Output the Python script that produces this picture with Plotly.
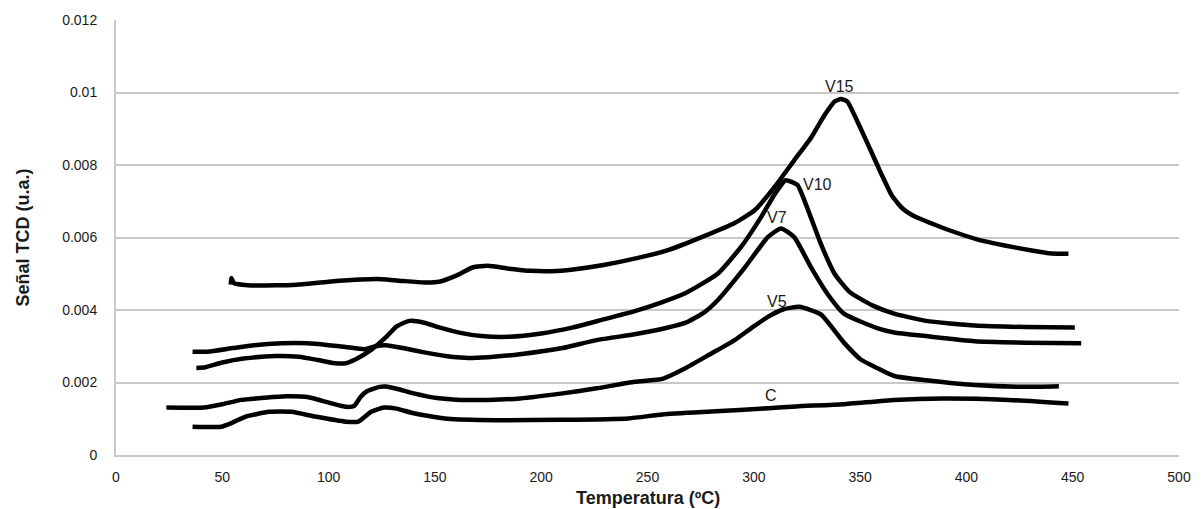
import plotly.graph_objects as go

# TPR-style TCD signal curves, temperature in ºC
v15_t = [54.0, 54.3, 55.5, 62, 75, 85, 100, 115, 125, 135, 145, 152, 160, 168, 175, 185, 195, 205,
         215, 230, 245, 260, 275.5, 291, 300.4, 309.7, 319, 327, 333, 338, 341, 344, 350, 355, 360,
         365, 370, 376, 384, 392, 405, 418, 430, 440, 448]
v15_y = [0.00470, 0.00488, 0.00474, 0.00468, 0.00468, 0.00470, 0.00478, 0.00484, 0.00485, 0.00480,
         0.00476, 0.00478, 0.00495, 0.00518, 0.00522, 0.00514, 0.00508, 0.00507, 0.00512, 0.00525,
         0.00543, 0.00566, 0.00601, 0.00640, 0.00675, 0.00739, 0.00813, 0.00876, 0.00935, 0.00975,
         0.00982, 0.00975, 0.00904, 0.00840, 0.00775, 0.00715, 0.00680, 0.00657, 0.00638, 0.00620,
         0.00595, 0.00578, 0.00565, 0.00556, 0.00555]

v10_t = [37.8, 42, 50, 60, 75, 86, 95, 102, 108, 113, 120, 127, 132, 138, 145, 152, 162, 172, 185,
         200, 215, 228, 244, 257, 268, 283, 294, 303.5, 310, 315, 320.5, 325, 331.5, 338, 345, 356,
         366, 381, 404, 428, 451]
v10_y = [0.00240, 0.00242, 0.00255, 0.00266, 0.00273, 0.00271, 0.00262, 0.00254, 0.00253, 0.00265,
         0.00290, 0.00325, 0.00355, 0.00370, 0.00365, 0.00352, 0.00337, 0.00328, 0.00326, 0.00335,
         0.00352, 0.00372, 0.00397, 0.00422, 0.00447, 0.00500, 0.00574, 0.00657, 0.00721, 0.00758,
         0.00745, 0.00684, 0.00583, 0.00500, 0.00450, 0.00412, 0.00390, 0.00370, 0.00357, 0.00353,
         0.00352]

v7_t = [36, 43, 55, 65, 78, 90, 100, 108, 117, 122, 127, 135, 145, 155, 164, 175, 190, 210, 226,
        244, 254, 268, 277, 283, 296, 306.6, 312.8, 319, 326.8, 334.6, 342.4, 358, 366, 381, 404,
        428, 454]
v7_y = [0.00285, 0.00285, 0.00295, 0.00303, 0.00308, 0.00308, 0.00303, 0.00298, 0.00292, 0.00300,
        0.00303, 0.00295, 0.00283, 0.00273, 0.00268, 0.00270, 0.00278, 0.00295, 0.00317, 0.00333,
        0.00344, 0.00365, 0.00395, 0.00427, 0.00519, 0.00601, 0.00625, 0.00601, 0.00519, 0.00445,
        0.00390, 0.00350, 0.00338, 0.00328, 0.00314, 0.00310, 0.00308]

v5_t = [23.7, 41.5, 50, 59, 70, 80, 90, 101, 108, 112, 115, 118, 124, 127, 132.5, 140, 151, 162,
        175, 190, 210, 226, 244, 257, 268, 280, 291, 300, 306.6, 314, 321.4, 331.5, 342.4, 350,
        358, 366, 381, 404, 428, 443.5]
v5_y = [0.00131, 0.00131, 0.00140, 0.00152, 0.00158, 0.00162, 0.00160, 0.00143, 0.00133, 0.00135,
        0.00160, 0.00176, 0.00188, 0.00189, 0.00182, 0.00170, 0.00157, 0.00152, 0.00152, 0.00156,
        0.00170, 0.00184, 0.00202, 0.00210, 0.00240, 0.00280, 0.00317, 0.00355, 0.00381, 0.00402,
        0.00409, 0.00388, 0.00310, 0.00265, 0.00240, 0.00218, 0.00206, 0.00193, 0.00188, 0.00190]

c_t = [36, 49.4, 55, 61, 72, 82.6, 93.6, 108, 114, 120, 126, 132, 140, 156, 179, 210, 241, 257, 280,
       307, 320, 342, 366, 389, 420, 448]
c_y = [0.00078, 0.00078, 0.00090, 0.00106, 0.00119, 0.00119, 0.00106, 0.00092, 0.00092, 0.00119,
       0.00131, 0.00128, 0.00115, 0.00100, 0.00096, 0.00097, 0.00101, 0.00112, 0.00120, 0.00129,
       0.00134, 0.00140, 0.00152, 0.00156, 0.00152, 0.00142]

series_names = ["V15", "V10", "V7", "V5", "C"]

x_ticks = [0, 50, 100, 150, 200, 250, 300, 350, 400, 450, 500]
y_ticks = [0, 0.002, 0.004, 0.006, 0.008, 0.01, 0.012]
y_tick_text = ["0", "0.002", "0.004", "0.006", "0.008", "0.01", "0.012"]

# curve label anchor points (temperature, signal)
label_x = [340.5, 329.8, 310.9, 311.0, 308.3]
label_y = [0.01017, 0.00745, 0.00656, 0.00423, 0.00165]

series = [(v15_t, v15_y), (v10_t, v10_y), (v7_t, v7_y), (v5_t, v5_y), (c_t, c_y)]

fig = go.Figure()
for name, (t, y) in zip(series_names, series):
    fig.add_trace(go.Scatter(
        x=t, y=y, mode="lines", name=name,
        line=dict(color="black", width=4.5, shape="spline", smoothing=0.5),
        showlegend=False,
    ))

for name, lx, ly in zip(series_names, label_x, label_y):
    fig.add_annotation(x=lx, y=ly, text=name, showarrow=False,
                       font=dict(family="Liberation Sans, Arial", size=16, color="#1a1a1a"),
                       xanchor="center", yanchor="middle")

tick_font = dict(family="Liberation Sans, Arial", size=14, color="#1a1a1a")
grid_col = "#c8c8c8"

fig.update_xaxes(range=[0, 500], tickvals=x_ticks, showgrid=False, zeroline=False,
                 showline=True, linecolor=grid_col, linewidth=2,
                 ticks="", tickfont=tick_font, ticklabelstandoff=8)
fig.update_yaxes(range=[0, 0.012], tickvals=y_ticks, ticktext=y_tick_text,
                 showgrid=True, gridcolor=grid_col, gridwidth=2, zeroline=False,
                 showline=True, linecolor=grid_col, linewidth=2,
                 ticks="", tickfont=tick_font, ticklabelstandoff=14)

title_font = dict(family="Liberation Sans, Arial", size=18, color="#1a1a1a")
fig.add_annotation(xref="paper", yref="paper", x=0, y=0.5, xshift=-94,
                   text="<b>Señal TCD (u.a.)</b>", textangle=-90, showarrow=False,
                   xanchor="center", yanchor="middle", font=title_font)
fig.add_annotation(xref="paper", yref="paper", x=0.5, y=0, yshift=-43,
                   text="<b>Temperatura (ºC)</b>", showarrow=False,
                   xanchor="center", yanchor="middle", font=title_font)

fig.update_layout(
    width=1203, height=509,
    margin=dict(l=116, r=15, t=20, b=54),
    paper_bgcolor="white", plot_bgcolor="white",
)

fig.write_html("out.html")
